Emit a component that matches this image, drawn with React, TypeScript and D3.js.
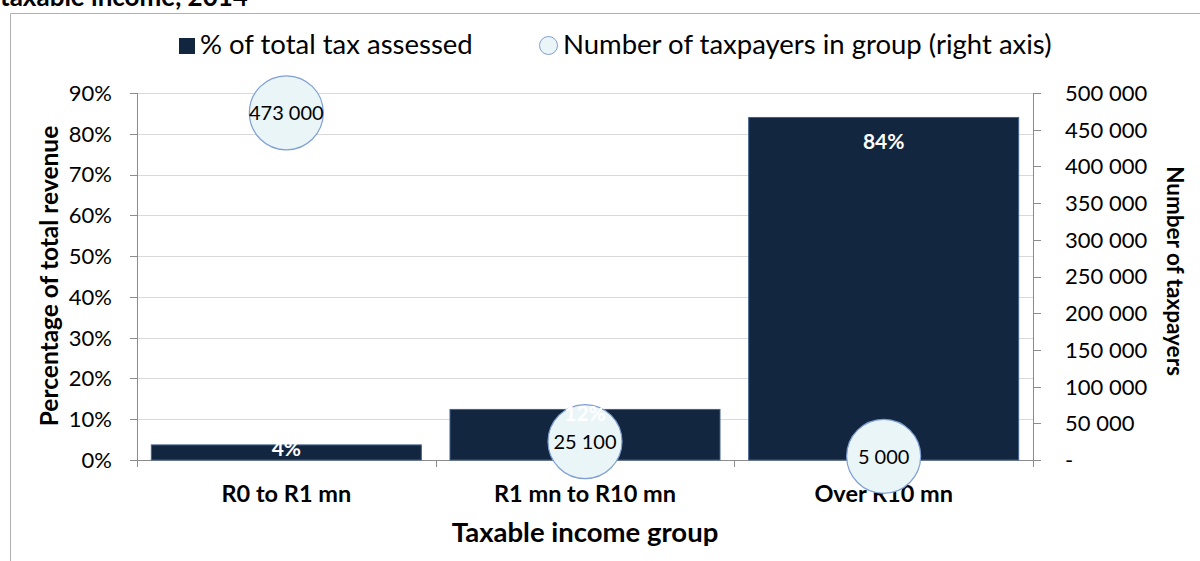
import * as d3 from "d3";
import { useEffect, useRef } from "react";

const categories = ["R0 to R1 mn", "R1 mn to R10 mn", "Over R10 mn"];
const taxShare = [3.7, 12.4, 84.0];
const shareLabels = ["4%", "12%", "84%"];
const taxpayers = [473000, 25100, 5000];
const taxpayerLabels = ["473 000", "25 100", "5 000"];
const leftTicks = [0, 10, 20, 30, 40, 50, 60, 70, 80, 90];
const rightTicks = [0, 50000, 100000, 150000, 200000, 250000, 300000, 350000, 400000, 450000, 500000];

const FONT = "Lato, 'Open Sans', sans-serif";
const NAVY = "#13263f";
const BUBBLE_FILL = "#eaf5f8";
const BUBBLE_STROKE = "#7f9fd3";

export default function App() {
  const ref = useRef<SVGSVGElement>(null);

  useEffect(() => {
    const width = 1200;
    const height = 561;
    const m = { left: 137, right: 1033, top: 93, bottom: 460 };

    const svg = d3.select(ref.current);
    svg.selectAll("*").remove();
    svg.attr("width", width).attr("height", height).style("font-family", FONT);

    // outer frame (only top and left edges visible) + clipped title
    svg.append("path")
      .attr("d", `M10.5,${height} V13.5 H${width}`)
      .attr("fill", "none").attr("stroke", "#b0b0b0");
    svg.append("text")
      .attr("x", 0).attr("y", 6)
      .attr("font-size", 26).attr("font-weight", "bold")
      .text("taxable income, 2014");

    const x = d3.scaleBand<string>()
      .domain(categories)
      .range([m.left, m.right])
      .paddingInner(0.096)
      .paddingOuter(0.048);

    const y = d3.scaleLinear().domain([0, 90]).range([m.bottom, m.top]);
    const y2 = d3.scaleLinear().domain([0, 500000]).range([m.bottom, m.top]);

    // gridlines
    svg.append("g")
      .selectAll("line")
      .data(leftTicks.filter(t => t > 0))
      .join("line")
      .attr("x1", m.left).attr("x2", m.right)
      .attr("y1", d => Math.round(y(d)) + 0.5).attr("y2", d => Math.round(y(d)) + 0.5)
      .attr("stroke", "#d9d9d9");

    // left axis
    const axisColor = "#8c8c8c";
    const gl = svg.append("g");
    gl.append("line")
      .attr("x1", m.left + 0.5).attr("x2", m.left + 0.5)
      .attr("y1", m.top).attr("y2", m.bottom + 7)
      .attr("stroke", axisColor);
    gl.selectAll("line.t")
      .data(leftTicks)
      .join("line")
      .attr("class", "t")
      .attr("x1", m.left - 7).attr("x2", m.left)
      .attr("y1", d => Math.round(y(d)) + 0.5).attr("y2", d => Math.round(y(d)) + 0.5)
      .attr("stroke", axisColor);
    gl.selectAll("text")
      .data(leftTicks)
      .join("text")
      .attr("x", 112).attr("y", d => y(d))
      .attr("dy", "0.36em")
      .attr("text-anchor", "end")
      .attr("font-size", 22)
      .text(d => `${d}%`);

    // right axis
    const gr = svg.append("g");
    gr.append("line")
      .attr("x1", m.right + 0.5).attr("x2", m.right + 0.5)
      .attr("y1", m.top).attr("y2", m.bottom + 7)
      .attr("stroke", axisColor);
    gr.selectAll("line.t")
      .data(rightTicks)
      .join("line")
      .attr("class", "t")
      .attr("x1", m.right).attr("x2", m.right + 8)
      .attr("y1", d => Math.round(y2(d)) + 0.5).attr("y2", d => Math.round(y2(d)) + 0.5)
      .attr("stroke", axisColor);
    gr.selectAll("text")
      .data(rightTicks)
      .join("text")
      .attr("x", 1065).attr("y", d => y2(d))
      .attr("dy", "0.36em")
      .attr("font-size", 22)
      .text(d => (d === 0 ? "-" : d3.format(",")(d).replace(/,/g, " ")));

    // bottom axis
    const gb = svg.append("g");
    gb.append("line")
      .attr("x1", m.left).attr("x2", m.right)
      .attr("y1", m.bottom + 0.5).attr("y2", m.bottom + 0.5)
      .attr("stroke", axisColor);
    const step = x.step();
    gb.selectAll("line.t")
      .data(d3.range(categories.length + 1))
      .join("line")
      .attr("class", "t")
      .attr("x1", i => Math.round(m.left + i * step) + 0.5)
      .attr("x2", i => Math.round(m.left + i * step) + 0.5)
      .attr("y1", m.bottom).attr("y2", m.bottom + 7)
      .attr("stroke", axisColor);
    gb.selectAll("text")
      .data(categories)
      .join("text")
      .attr("x", d => x(d)! + x.bandwidth() / 2)
      .attr("y", 502)
      .attr("text-anchor", "middle")
      .attr("font-size", 23.5).attr("font-weight", "bold")
      .text(d => d);

    // bars
    svg.append("g")
      .selectAll("rect")
      .data(taxShare)
      .join("rect")
      .attr("x", (d, i) => x(categories[i])!)
      .attr("y", d => y(d))
      .attr("width", x.bandwidth())
      .attr("height", d => m.bottom - y(d))
      .attr("fill", NAVY)
      .attr("stroke", "#41618f")
      .attr("stroke-width", 1);

    // bubbles
    const r = 37;
    svg.append("g")
      .selectAll("circle")
      .data(taxpayers)
      .join("circle")
      .attr("cx", (d, i) => x(categories[i])! + x.bandwidth() / 2)
      .attr("cy", d => y2(d))
      .attr("r", r)
      .attr("fill", BUBBLE_FILL)
      .attr("stroke", BUBBLE_STROKE)
      .attr("stroke-width", 1.2);

    // bar labels (white, clipped naturally on white bg)
    svg.append("g")
      .selectAll("text")
      .data(taxShare)
      .join("text")
      .attr("x", (d, i) => x(categories[i])! + x.bandwidth() / 2)
      .attr("y", d => y(d) + (m.bottom - y(d) > 100 ? 24 : 4))
      .attr("dy", "0.36em")
      .attr("text-anchor", "middle")
      .attr("font-size", 21).attr("font-weight", "bold")
      .attr("fill", "#fff")
      .text((d, i) => shareLabels[i]);

    // bubble labels
    svg.append("g")
      .selectAll("text")
      .data(taxpayers)
      .join("text")
      .attr("x", (d, i) => x(categories[i])! + x.bandwidth() / 2)
      .attr("y", d => y2(d))
      .attr("dy", "0.36em")
      .attr("text-anchor", "middle")
      .attr("font-size", 20)
      .attr("fill", "#000")
      .text((d, i) => taxpayerLabels[i]);

    // axis titles
    svg.append("text")
      .attr("transform", `translate(49,276) rotate(-90)`)
      .attr("dy", "0.36em")
      .attr("text-anchor", "middle")
      .attr("font-size", 24.5).attr("font-weight", "bold")
      .text("Percentage of total revenue");
    svg.append("text")
      .attr("transform", `translate(1175,271) rotate(90)`)
      .attr("dy", "0.36em")
      .attr("text-anchor", "middle")
      .attr("font-size", 22.5).attr("font-weight", "bold")
      .text("Number of taxpayers");
    svg.append("text")
      .attr("x", (m.left + m.right) / 2).attr("y", 542)
      .attr("text-anchor", "middle")
      .attr("font-size", 27.5).attr("font-weight", "bold")
      .text("Taxable income group");

    // legend
    const lg = svg.append("g");
    lg.append("rect")
      .attr("x", 179).attr("y", 38).attr("width", 16).attr("height", 16)
      .attr("fill", NAVY);
    lg.append("text")
      .attr("x", 200).attr("y", 54)
      .attr("font-size", 27.5)
      .text("% of total tax assessed");
    lg.append("circle")
      .attr("cx", 548.5).attr("cy", 45.5).attr("r", 9)
      .attr("fill", BUBBLE_FILL).attr("stroke", BUBBLE_STROKE);
    lg.append("text")
      .attr("x", 563).attr("y", 54)
      .attr("font-size", 27.5)
      .text("Number of taxpayers in group (right axis)");
  }, []);

  return (
    <svg ref={ref} style={{ position: "absolute", left: 0, top: 0 }} />
  );
}
